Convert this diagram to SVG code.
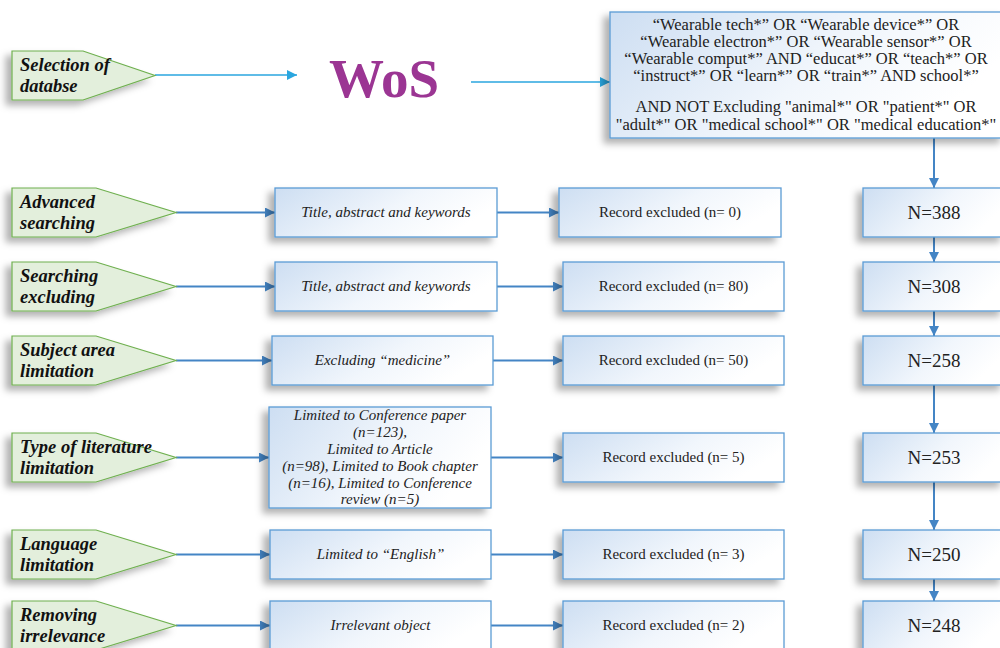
<svg xmlns="http://www.w3.org/2000/svg" width="1000" height="648" viewBox="0 0 1000 648">
<defs>
<linearGradient id="bg" x1="0" y1="0" x2="1" y2="0.35">
<stop offset="0" stop-color="#cddef2"/>
<stop offset="0.6" stop-color="#f1f6fc"/>
<stop offset="1" stop-color="#ffffff"/>
</linearGradient>
<filter id="sh" x="-20%" y="-20%" width="140%" height="160%">
<feDropShadow dx="-6" dy="5" stdDeviation="3.5" flood-color="#000" flood-opacity="0.3"/>
</filter>
<marker id="ab" markerWidth="10" markerHeight="10" refX="10" refY="5" orient="auto" markerUnits="userSpaceOnUse">
<path d="M0,0 L10,5 L0,10 Z" fill="#4485c5"/>
</marker>
<marker id="al" markerWidth="10" markerHeight="10" refX="10" refY="5" orient="auto" markerUnits="userSpaceOnUse">
<path d="M0,0 L10,5 L0,10 Z" fill="#2aa6df"/>
</marker>
</defs>
<style>
.pent{fill:#e3efdc;stroke:#6fb04f;stroke-width:1.2;filter:url(#sh)}
.box{fill:url(#bg);stroke:#5b9bd5;stroke-width:1.3;filter:url(#sh)}
.lbl{font-family:"Liberation Serif",serif;font-weight:bold;font-style:italic;font-size:18.5px;fill:#111}
.mid{font-family:"Liberation Serif",serif;font-style:italic;font-size:15px;fill:#222;text-anchor:middle}
.rec{font-family:"Liberation Serif",serif;font-size:15px;fill:#222;text-anchor:middle}
.n{font-family:"Liberation Serif",serif;font-size:19px;fill:#222;text-anchor:middle}
.q{font-family:"Liberation Serif",serif;font-size:16.5px;fill:#222;text-anchor:middle}
.c{fill:none;stroke:#4485c5;stroke-width:2;marker-end:url(#ab)}
.cl{fill:none;stroke:#2aa6df;stroke-width:1.3;marker-end:url(#al)}
</style>

<g id="connectors">
<line class="cl" x1="155" y1="75" x2="297" y2="75"/>
<line class="cl" x1="471" y1="82" x2="610" y2="82"/>
<line class="c" x1="934" y1="138" x2="934" y2="188"/>
<line class="c" x1="176" y1="212.5" x2="275" y2="212.5"/>
<line class="c" x1="497" y1="212.5" x2="559" y2="212.5"/>
<line class="c" x1="176" y1="286.5" x2="275" y2="286.5"/>
<line class="c" x1="497" y1="286.5" x2="563" y2="286.5"/>
<line class="c" x1="176" y1="360.5" x2="272" y2="360.5"/>
<line class="c" x1="493" y1="360.5" x2="563" y2="360.5"/>
<line class="c" x1="176" y1="457.5" x2="269" y2="457.5"/>
<line class="c" x1="491" y1="457.5" x2="563" y2="457.5"/>
<line class="c" x1="176" y1="554.5" x2="270" y2="554.5"/>
<line class="c" x1="491" y1="554.5" x2="563" y2="554.5"/>
<line class="c" x1="176" y1="625.5" x2="270" y2="625.5"/>
<line class="c" x1="491" y1="625.5" x2="563" y2="625.5"/>
<line class="c" x1="934" y1="237" x2="934" y2="262"/>
<line class="c" x1="934" y1="311" x2="934" y2="336"/>
<line class="c" x1="934" y1="385" x2="934" y2="433"/>
<line class="c" x1="934" y1="482" x2="934" y2="530"/>
<line class="c" x1="934" y1="579" x2="934" y2="601"/>
</g>

<g id="sel">
<polygon class="pent" points="12,51 83,51 155,75.5 83,100 12,100"/>
<text class="lbl" x="20" y="71">Selection of</text>
<text class="lbl" x="20" y="92">databse</text>
</g>
<g id="wos">
<text x="384" y="97" font-family="'Liberation Serif',serif" font-weight="bold" font-size="55" fill="#9b3593" text-anchor="middle">WoS</text>
</g>
<g id="query">
<rect class="box" x="610" y="12" width="395" height="126"/>
<text class="q" x="806" y="30">“Wearable tech*” OR “Wearable device*” OR</text>
<text class="q" x="806" y="47">“Wearable electron*” OR “Wearable sensor*” OR</text>
<text class="q" x="806" y="64">“Wearable comput*” AND “educat*” OR “teach*” OR</text>
<text class="q" x="806" y="81">“instruct*” OR “learn*” OR “train*” AND school*”</text>
<text class="q" x="806" y="112">AND NOT Excluding "animal*" OR "patient*" OR</text>
<text class="q" x="806" y="130">"adult*" OR "medical school*" OR "medical education*"</text>
</g>

<g id="row1-label">
<polygon class="pent" points="12,188 96,188 176,212.5 96,237 12,237"/>
<text class="lbl" x="20" y="208">Advanced</text>
<text class="lbl" x="20" y="229">searching</text>
</g>
<g id="row1-mid">
<rect class="box" x="275" y="188" width="222" height="49"/>
<text class="mid" x="386" y="217">Title, abstract and keywords</text>
</g>
<g id="row1-rec">
<rect class="box" x="559" y="188" width="222" height="49"/>
<text class="rec" x="670" y="217">Record excluded (n= 0)</text>
</g>
<g id="row1-n">
<rect class="box" x="863" y="188" width="142" height="49"/>
<text class="n" x="934" y="219">N=388</text>
</g>

<g id="row2-label">
<polygon class="pent" points="12,262 96,262 176,286.5 96,311 12,311"/>
<text class="lbl" x="20" y="282">Searching</text>
<text class="lbl" x="20" y="303">excluding</text>
</g>
<g id="row2-mid">
<rect class="box" x="275" y="262" width="222" height="49"/>
<text class="mid" x="386" y="291">Title, abstract and keywords</text>
</g>
<g id="row2-rec">
<rect class="box" x="563" y="262" width="221" height="49"/>
<text class="rec" x="673.5" y="291">Record excluded (n= 80)</text>
</g>
<g id="row2-n">
<rect class="box" x="863" y="262" width="142" height="49"/>
<text class="n" x="934" y="293">N=308</text>
</g>

<g id="row3-label">
<polygon class="pent" points="12,336 96,336 176,360.5 96,385 12,385"/>
<text class="lbl" x="20" y="356">Subject area</text>
<text class="lbl" x="20" y="377">limitation</text>
</g>
<g id="row3-mid">
<rect class="box" x="272" y="336" width="221" height="49"/>
<text class="mid" x="382.5" y="365">Excluding “medicine”</text>
</g>
<g id="row3-rec">
<rect class="box" x="563" y="336" width="221" height="49"/>
<text class="rec" x="673.5" y="365">Record excluded (n= 50)</text>
</g>
<g id="row3-n">
<rect class="box" x="863" y="336" width="142" height="49"/>
<text class="n" x="934" y="367">N=258</text>
</g>

<g id="row4-label">
<polygon class="pent" points="12,433 96,433 176,457.5 96,482 12,482"/>
<text class="lbl" x="20" y="453">Type of literature</text>
<text class="lbl" x="20" y="474">limitation</text>
</g>
<g id="row4-mid">
<rect class="box" x="269" y="407" width="222" height="101"/>
<text class="mid" x="380" y="420">Limited to Conference paper</text>
<text class="mid" x="380" y="437">(n=123),</text>
<text class="mid" x="380" y="454">Limited to Article</text>
<text class="mid" x="380" y="471">(n=98), Limited to Book chapter</text>
<text class="mid" x="380" y="488">(n=16), Limited to Conference</text>
<text class="mid" x="380" y="504">review (n=5)</text>
</g>
<g id="row4-rec">
<rect class="box" x="563" y="433" width="221" height="49"/>
<text class="rec" x="673.5" y="462">Record excluded (n= 5)</text>
</g>
<g id="row4-n">
<rect class="box" x="863" y="433" width="142" height="49"/>
<text class="n" x="934" y="464">N=253</text>
</g>

<g id="row5-label">
<polygon class="pent" points="12,530 96,530 176,554.5 96,579 12,579"/>
<text class="lbl" x="20" y="550">Language</text>
<text class="lbl" x="20" y="571">limitation</text>
</g>
<g id="row5-mid">
<rect class="box" x="270" y="530" width="221" height="49"/>
<text class="mid" x="380.5" y="559">Limited to “English”</text>
</g>
<g id="row5-rec">
<rect class="box" x="563" y="530" width="221" height="49"/>
<text class="rec" x="673.5" y="559">Record excluded (n= 3)</text>
</g>
<g id="row5-n">
<rect class="box" x="863" y="530" width="142" height="49"/>
<text class="n" x="934" y="561">N=250</text>
</g>

<g id="row6-label">
<polygon class="pent" points="12,601 96,601 176,625.5 96,650 12,650"/>
<text class="lbl" x="20" y="621">Removing</text>
<text class="lbl" x="20" y="642">irrelevance</text>
</g>
<g id="row6-mid">
<rect class="box" x="270" y="601" width="221" height="49"/>
<text class="mid" x="380.5" y="630">Irrelevant object</text>
</g>
<g id="row6-rec">
<rect class="box" x="563" y="601" width="221" height="49"/>
<text class="rec" x="673.5" y="630">Record excluded (n= 2)</text>
</g>
<g id="row6-n">
<rect class="box" x="863" y="601" width="142" height="49"/>
<text class="n" x="934" y="632">N=248</text>
</g>
</svg>
